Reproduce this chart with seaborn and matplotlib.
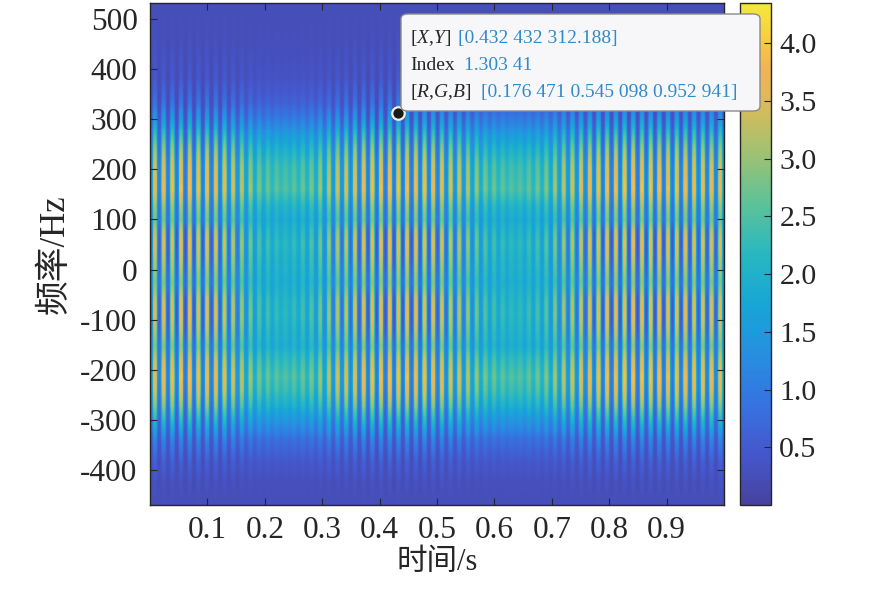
import numpy as np
import pandas as pd
import matplotlib
matplotlib.use("Agg")
import matplotlib.pyplot as plt
import seaborn as sns
from matplotlib.colors import LinearSegmentedColormap
from matplotlib.patches import FancyBboxPatch

# ---------------- data ----------------
t_start, t_end = 0.0, 1.0              # time axis (s)
f_low, f_high = -468.75, 531.25        # frequency axis (Hz)
stripe_rate_hz = 66.0                  # vertical stripes per second
stripe_sharpness = 0.6                 # <1 widens both bright and dark stripes

freq_nodes = [531, 450, 380, 330, 300, 270, 240, 205, 159, 125, 99, 75, 50, 20,
              -26, -60, -90, -120, -152, -180, -212, -240, -271, -305, -340,
              -380, -420, -469]
mean_levels = [0.25, 0.28, 0.35, 0.6, 1.0, 1.5, 1.95, 2.3, 2.45, 2.0, 1.85, 2.0, 2.1,
               2.0, 1.9, 2.05, 2.1, 2.0, 1.9, 2.2, 2.45, 2.3, 1.9, 1.35, 0.8,
               0.45, 0.3, 0.25]
amp_levels = [0.0, 0.05, 0.15, 0.4, 0.7, 1.0, 1.3, 1.45, 1.55, 1.25, 1.1, 1.6, 1.75,
              1.55, 1.15, 1.65, 1.75, 1.55, 1.15, 1.45, 1.55, 1.5, 1.25, 0.85, 0.45,
              0.2, 0.08, 0.0]

contrast_t = [0.0, 0.06, 0.12, 0.155, 0.19, 0.235, 0.28, 0.32, 0.38, 0.43, 0.50,
              0.545, 0.585, 0.635, 0.685, 0.725, 0.78, 0.85, 0.92, 1.0]
contrast_v = [0.85, 1.0, 0.9, 0.65, 0.25, 0.06, 0.25, 0.65, 0.95, 1.0, 0.9,
              0.65, 0.25, 0.06, 0.25, 0.65, 0.95, 1.0, 0.95, 0.85]

x_ticks = [0.1, 0.2, 0.3, 0.4, 0.5, 0.6, 0.7, 0.8, 0.9]
y_ticks = [-400, -300, -200, -100, 0, 100, 200, 300, 400, 500]
cbar_ticks = [0.5, 1.0, 1.5, 2.0, 2.5, 3.0, 3.5, 4.0]
v_min, v_max = 0.0, 4.35

tip_x, tip_y = 0.432432, 312.188
tip_xy_text = "[0.432 432 312.188]"
tip_index_text = "1.303 41"
tip_rgb_text = "[0.176 471 0.545 098 0.952 941]"

# ---------------- colormap (parula-like, as printed) ----------------
parula_anchors = [
    (0.00, (0.28, 0.26, 0.62)),
    (0.10, (0.27, 0.34, 0.80)),
    (0.20, (0.21, 0.45, 0.88)),
    (0.30, (0.15, 0.56, 0.88)),
    (0.40, (0.09, 0.65, 0.84)),
    (0.50, (0.16, 0.72, 0.75)),
    (0.60, (0.36, 0.76, 0.60)),
    (0.70, (0.62, 0.76, 0.45)),
    (0.80, (0.86, 0.73, 0.35)),
    (0.87, (0.95, 0.70, 0.33)),
    (0.94, (0.97, 0.82, 0.24)),
    (1.00, (0.95, 0.91, 0.24)),
]
cmap = LinearSegmentedColormap.from_list("parula_print", parula_anchors, N=256)

# ---------------- build the field ----------------
n_t, n_f = 1148, 260
dt = (t_end - t_start) / n_t
df_ = (f_high - f_low) / n_f
t_c = t_start + (np.arange(n_t) + 0.5) * dt
f_c = f_high - (np.arange(n_f) + 0.5) * df_

fn = np.array(freq_nodes)[::-1]
mean_f = np.interp(f_c, fn, np.array(mean_levels)[::-1])
amp_f = np.interp(f_c, fn, np.array(amp_levels)[::-1])
contrast = np.interp(t_c, contrast_t, contrast_v)
c = np.cos(2 * np.pi * stripe_rate_hz * (t_c - tip_x))
wave = np.sign(c) * np.abs(c) ** stripe_sharpness
Z = mean_f[:, None] + amp_f[:, None] * contrast[None, :] * wave[None, :]
field = pd.DataFrame(Z, index=np.round(f_c, 2), columns=np.round(t_c, 5))

# ---------------- figure ----------------
plt.rcParams["font.family"] = ["Liberation Serif", "Noto Sans CJK SC"]
plt.rcParams["mathtext.fontset"] = "custom"
plt.rcParams["mathtext.rm"] = "Liberation Serif"
plt.rcParams["mathtext.it"] = "Liberation Serif:italic"
W, H = 871, 599
fig = plt.figure(figsize=(W / 100, H / 100), dpi=100)
ax = fig.add_axes([150 / W, 1 - 505 / H, 574 / W, 502 / H])
cax = fig.add_axes([740 / W, 1 - 505 / H, 31 / W, 502 / H])

sns.heatmap(field, ax=ax, cbar_ax=cax, cmap=cmap, vmin=v_min, vmax=v_max,
            xticklabels=False, yticklabels=False, rasterized=True)

def tx(v):
    return (v - t_start) / dt

def fy(v):
    return (f_high - v) / df_

edge = "#262626"
tick_fs = 22.5
ax.set_xticks([tx(v) for v in x_ticks])
ax.set_xticklabels([f"{v:.1f}" for v in x_ticks])
ax.set_yticks([fy(v) for v in y_ticks])
ax.set_yticklabels([str(v) for v in y_ticks], rotation=0)
for s in ax.spines.values():
    s.set_visible(True)
    s.set_color(edge)
    s.set_linewidth(1.0)
ax.tick_params(direction="in", length=5, width=0.8, color=edge, top=True, right=True,
               labelsize=tick_fs, labelcolor="#262626")
ax.tick_params(axis="x", pad=8)
ax.tick_params(axis="y", pad=9)
ax.set_xlabel("时间/s", fontsize=22, color="#262626", labelpad=2)
ax.set_ylabel("频率/Hz", fontsize=25, color="#262626", labelpad=6)

cb = ax.collections[0].colorbar
cb.set_ticks(cbar_ticks)
cb.set_ticklabels([f"{v:.1f}" for v in cbar_ticks])
cb.outline.set_visible(True)
cb.outline.set_edgecolor(edge)
cb.outline.set_linewidth(1.0)
cax.tick_params(direction="in", length=5, width=0.8, color=edge, labelsize=21.5,
                labelcolor="#262626", pad=6)

# data tip marker
ax.plot([tx(tip_x)], [fy(tip_y)], "o", ms=9, mfc="#1a1a1a", mec="#f3efdc", mew=1.6,
        zorder=10, clip_on=False)

# data tip box
box = FancyBboxPatch((401 / W, 1 - 111 / H), 359 / W, 97 / H,
                     boxstyle="round,pad=0,rounding_size=0.008",
                     transform=fig.transFigure, facecolor="#f7f7f9",
                     edgecolor="#8a8a8a", linewidth=1.0, zorder=20)
fig.patches.append(box)

lab_c = "#262626"
val_c = "#2f8bcb"
fs = 14
def ftxt(x, y, s, c):
    fig.text(x / W, 1 - y / H, s, color=c, fontsize=fs, va="baseline", ha="left",
             zorder=21)

ftxt(410, 43, "[$X$,$Y$]", lab_c)
ftxt(458, 43, tip_xy_text, val_c)
ftxt(410, 70, "Index", lab_c)
ftxt(464, 70, tip_index_text, val_c)
ftxt(410, 97, "[$R$,$G$,$B$]", lab_c)
ftxt(481, 97, tip_rgb_text, val_c)

fig.savefig("out.png", dpi=100)
